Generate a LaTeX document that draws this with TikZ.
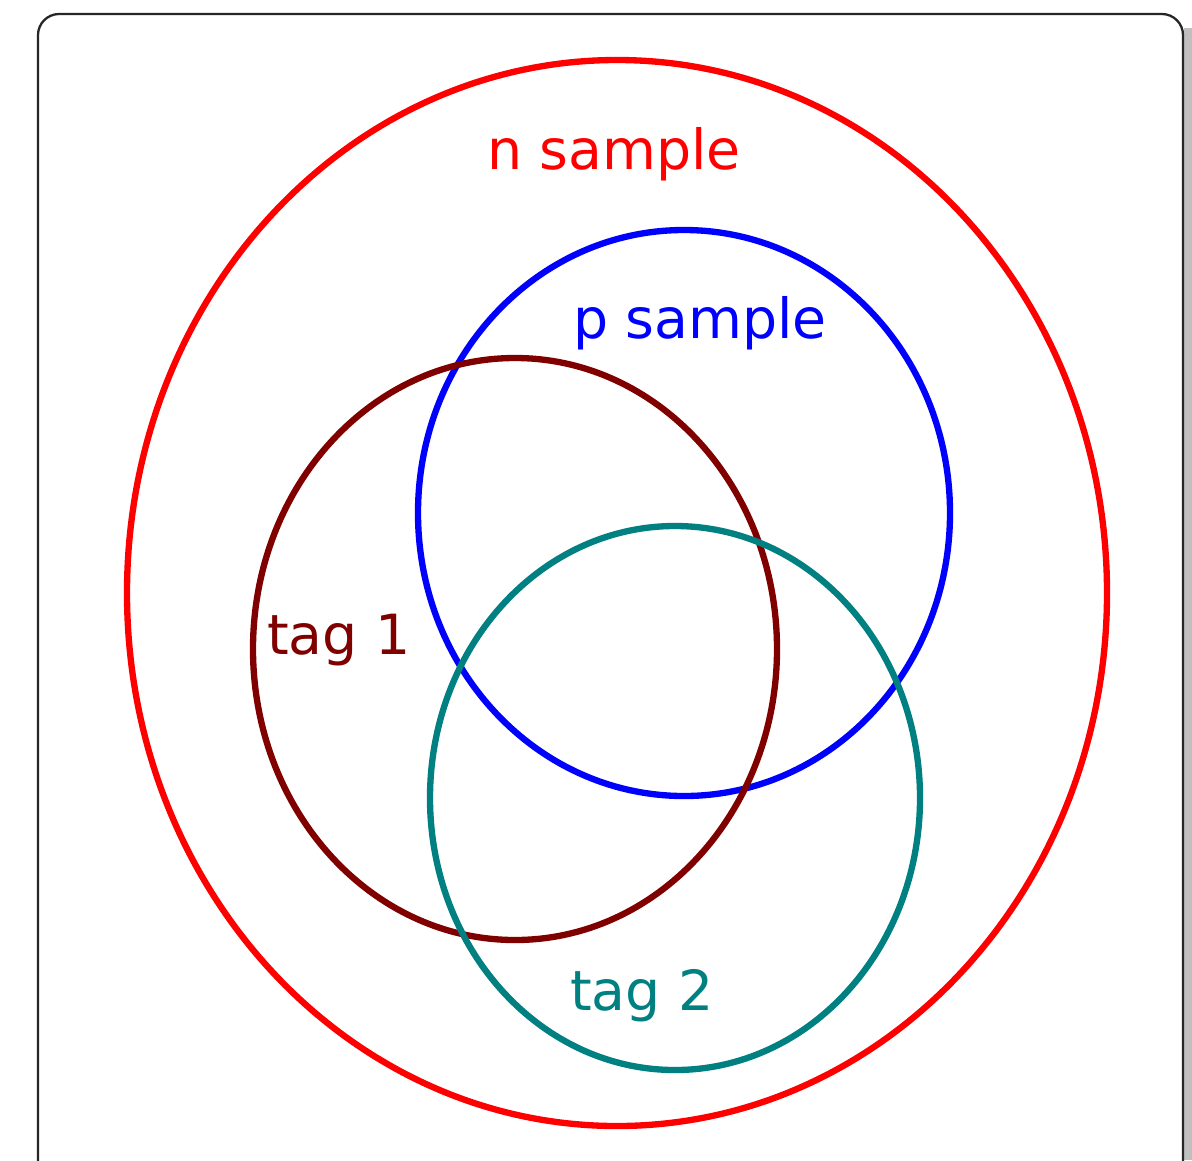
\documentclass[tikz,border=0pt]{standalone}
\usepackage{fontspec}
\setmainfont{DejaVu Sans}
\definecolor{nred}{rgb}{1.0, 0.0, 0.0}
\definecolor{pblue}{rgb}{0.0, 0.0, 1.0}
\definecolor{tagone}{rgb}{0.5, 0.0, 0.0}
\definecolor{tagtwo}{rgb}{0.0, 0.5, 0.5}
\definecolor{shadowgray}{rgb}{0.75, 0.75, 0.75}

\begin{document}
\begin{tikzpicture}[x=0.02cm, y=-0.02cm]
  \tikzset{
    set/.style={line width=3.6pt},
    setlabel/.style={inner sep=0pt, font=\fontsize{31.5}{38}\selectfont}
  }
  \useasboundingbox (0,0) rectangle (1192,1160);

  % Coordinates
  \coordinate (N) at (617, 593);
  \coordinate (P) at (684, 513);
  \coordinate (T1) at (515, 649);
  \coordinate (T2) at (675, 798);

  % Frame
  \fill[shadowgray] (1184, 28) rectangle (1192, 1160);
  \draw[line width=1.3pt, black!85, rounded corners=12] (38, 1165) -- (38, 14) -- (1183, 14) -- (1183, 1165);

  % Drawing
  \draw[set, nred] (N) ellipse [x radius=490, y radius=533];
  \draw[set, pblue] (P) ellipse [x radius=266, y radius=283];
  \draw[set, tagone] (T1) ellipse [x radius=262, y radius=291];
  \draw[set, tagtwo] (T2) ellipse [x radius=245, y radius=272];

  % Labels
  \node[setlabel, nred] (nlabel) at (614, 154) {n sample};
  \node[setlabel, pblue] (plabel) at (700, 323) {p sample};
  \node[setlabel, tagone] (tonelabel) at (339, 640) {tag 1};
  \node[setlabel, tagtwo] (ttwolabel) at (642, 996) {tag 2};
\end{tikzpicture}
\end{document}
